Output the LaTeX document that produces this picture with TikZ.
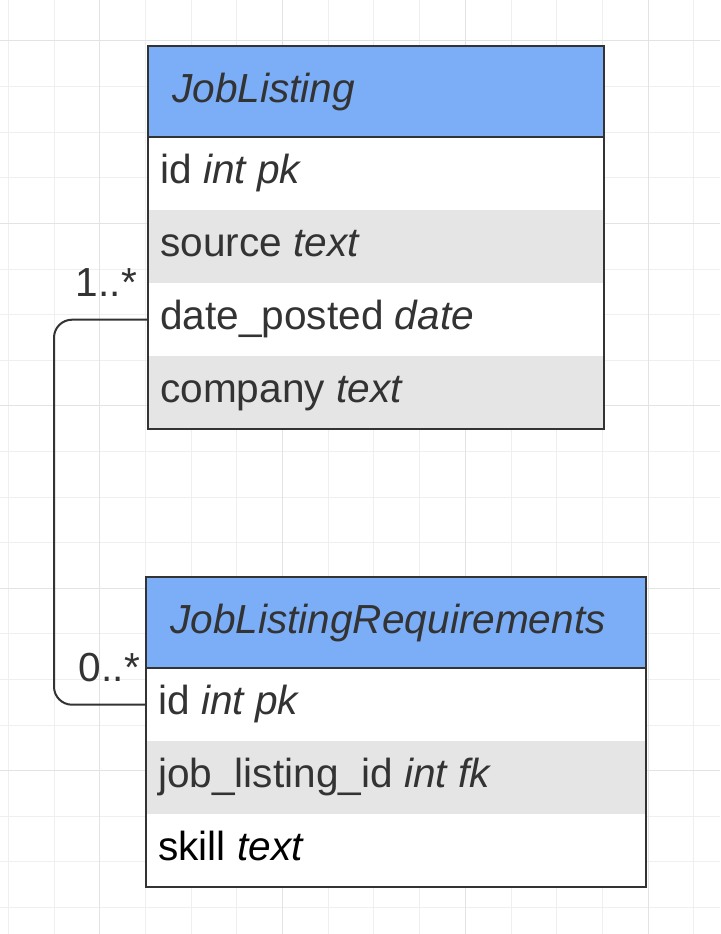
\documentclass[tikz,border=0pt]{standalone}
\usepackage{fontspec}
\setmainfont{Liberation Sans}
\usetikzlibrary{calc}

\definecolor{headblue}{HTML}{7BAEF7}
\definecolor{rowgray}{HTML}{E5E5E5}
\definecolor{ink}{HTML}{333333}
\definecolor{gridminor}{HTML}{EFEFEF}
\definecolor{gridmajor}{HTML}{E3E3E3}

\tikzset{
    cell/.style={rectangle,inner sep=0pt,anchor=north west,minimum height=73pt},
    head/.style={cell,fill=headblue,minimum height=91pt},
    txt/.style={anchor=base west,inner sep=0pt,text=ink},
    border/.style={draw=ink,line width=2pt}
}

\begin{document}
\begin{tikzpicture}[x=1pt,y=-1pt,font=\fontsize{40.6}{48}\selectfont]
            \useasboundingbox (0,0) rectangle (720,934);
            \fill[white] (0,0) rectangle (720,934);
    
            % background grid
            \foreach \i in {0,...,15}
                \draw[gridminor,line width=1pt] (8.3+45.7*\i,0) -- (8.3+45.7*\i,934);
            \foreach \j in {0,...,19}
                \draw[gridminor,line width=1pt] (0,41+45.6*\j) -- (720,41+45.6*\j);
            \foreach \i in {2,6,10,14}
                \draw[gridmajor,line width=1pt] (8.3+45.7*\i,0) -- (8.3+45.7*\i,934);
            \foreach \j in {0,4,8,12,16}
                \draw[gridmajor,line width=1pt] (0,41+45.6*\j) -- (720,41+45.6*\j);
    
            % JobListing
            \node[head,minimum width=456pt] (jl) at (148,46) {};
            \node[cell,fill=white,minimum width=456pt] (jl1) at (148,137) {};
            \node[cell,fill=rowgray,minimum width=456pt] (jl2) at (148,210) {};
            \node[cell,fill=white,minimum width=456pt] (jl3) at (148,283) {};
            \node[cell,fill=rowgray,minimum width=456pt] (jl4) at (148,356) {};
            \draw[border] (jl.south west) -- (jl.south east);
            \draw[border] (jl.north west) rectangle (jl4.south east);
    
            \node[txt] (jlname) at (172,102) {\textit{JobListing}};
            \node[txt] (jlid) at (160,183) {id \textit{int pk}};
            \node[txt] (jlsource) at (160,256) {source \textit{text}};
            \node[txt] (jldate) at (160,329) {date\_posted \textit{date}};
            \node[txt] (jlcompany) at (160,402) {company \textit{text}};
    
            % JobListingRequirements
            \node[head,minimum width=500pt] (jr) at (146,577) {};
            \node[cell,fill=white,minimum width=500pt] (jr1) at (146,668) {};
            \node[cell,fill=rowgray,minimum width=500pt] (jr2) at (146,741) {};
            \node[cell,fill=white,minimum width=500pt] (jr3) at (146,814) {};
            \draw[border] (jr.south west) -- (jr.south east);
            \draw[border] (jr.north west) rectangle (jr3.south east);
    
            \node[txt] (jrname) at (170,633) {\textit{JobListingRequirements}};
            \node[txt] (jrid) at (158,714) {id \textit{int pk}};
            \node[txt] (jrfk) at (158,787) {job\_listing\_id \textit{int fk}};
            \node[txt,text=black] (jrskill) at (158,860) {skill \textit{text}};
    
            % relation
            \draw[ink,line width=2pt,rounded corners=18pt] (jl3.west) -- ++(-94,0) |- (jr1.west);
            \node[txt,anchor=base east] (many1) at (137,296) {1..*};
            \node[txt,anchor=base east] (many0) at (140,681) {0..*};
        \end{tikzpicture}
\end{document}
